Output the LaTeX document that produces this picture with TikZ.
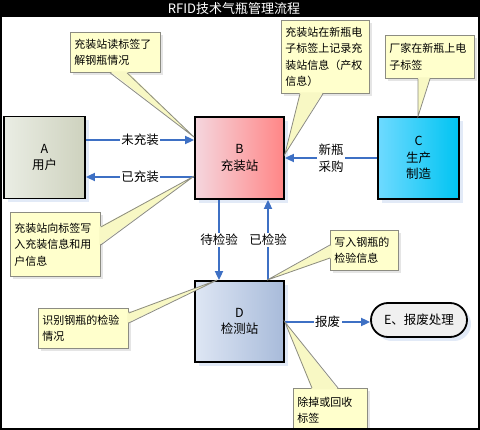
\documentclass[tikz,border=0pt]{standalone}
\usepackage{fontspec}
\setmainfont{Noto Sans CJK SC}
\usetikzlibrary{arrows.meta,shadows,calc}
\definecolor{flow}{RGB}{62,112,196}
\definecolor{callfill}{RGB}{255,255,204}
\definecolor{wedgefill}{RGB}{248,248,196}
\definecolor{callline}{RGB}{140,140,130}
\definecolor{shadowblue}{RGB}{226,234,247}
\definecolor{aL}{RGB}{234,237,228}
\definecolor{aR}{RGB}{206,210,190}
\definecolor{bL}{RGB}{245,214,222}
\definecolor{bR}{RGB}{255,134,134}
\definecolor{cL}{RGB}{110,218,255}
\definecolor{cR}{RGB}{0,196,242}
\definecolor{dL}{RGB}{222,230,244}
\definecolor{dR}{RGB}{168,187,218}
\newcommand\callwedge[4]{%
  \fill[wedgefill] ($(#1)+(#4)$) -- (#3) -- ($(#2)+(#4)$) -- cycle;
  \draw[callline,line width=0.8pt] (#1) -- (#3) -- (#2);}
\begin{document}
\begin{tikzpicture}[x=1pt,y=-1pt,
  stationbox/.style={draw=black,line width=1.8pt,minimum width=89pt,minimum height=82pt,
    align=center,font=\fontsize{12.5}{16.5}\selectfont,
    drop shadow={shadow xshift=4pt,shadow yshift=-4pt,fill=shadowblue,opacity=1}},
  flowline/.style={draw=flow,line width=1.8pt,-{Triangle[length=9pt,width=8pt]}},
  flowlabel/.style={fill=white,inner sep=1.5pt,font=\fontsize{12.5}{15}\selectfont},
  callout/.style={draw=callline,fill=callfill,line width=0.8pt,anchor=north west,
    inner sep=4pt,align=left,font=\fontsize{11}{16.5}\selectfont,
    drop shadow={shadow xshift=3pt,shadow yshift=-3pt,fill=black!10,opacity=1}}]
\useasboundingbox (0,0) rectangle (480,430);
\fill[white] (0,0) rectangle (480,430);
\fill[black] (0,0) rectangle (480,17);
\node[text=white,font=\fontsize{13}{15}\selectfont] (title) at (234,8.5) {RFID技术气瓶管理流程};

% stations
\node[stationbox,minimum width=81pt,left color=aL,right color=aR] (A) at (44.5,157.5) {A\\用户};
\node[stationbox,left color=bL,right color=bR] (B) at (239.5,158) {B\\充装站};
\node[stationbox,minimum width=81pt,left color=cL,right color=cR] (C) at (418.5,158) {C\\生产\\制造};
\node[stationbox,minimum height=81pt,left color=dL,right color=dR] (D) at (239.5,321.5) {D\\检测站};
\node[draw=black,line width=1.8pt,fill=black!6,rounded corners=17pt,minimum width=96pt,
  minimum height=34pt,font=\fontsize{12.5}{15}\selectfont,
  drop shadow={shadow xshift=4pt,shadow yshift=-4pt,fill=shadowblue,opacity=1}] (E) at (419,320) {E、报废处理};

% flows
\coordinate (yAB) at (0,140);
\coordinate (yBA) at (0,177);
\coordinate (xBD) at (219,0);
\coordinate (xDB) at (268,0);
\coordinate (yDE) at (0,322);
\draw[flowline] (A.east |- yAB) -- node[flowlabel]{未充装} (B.west |- yAB);
\draw[flowline] (B.west |- yBA) -- node[flowlabel]{已充装} (A.east |- yBA);
\draw[flowline] (C.west) -- node[flowlabel,align=center,font=\fontsize{12.5}{16.5}\selectfont]{新瓶\\采购} (B.east);
\draw[flowline] (B.south -| xBD) -- node[flowlabel]{待检验} (D.north -| xBD);
\draw[flowline] (D.north -| xDB) -- node[flowlabel]{已检验} (B.south -| xDB);
\draw[flowline] (D.east |- yDE) -- node[flowlabel]{报废} (E.west |- yDE);

% callouts
\node[callout,text width=82pt,minimum height=40pt] (c1) at (70,32) {充装站读标签了\\解钢瓶情况};
\node[callout,text width=80pt,minimum height=73pt] (c2) at (281,20) {充装站在新瓶电\\子标签上记录充\\装站信息（产权\\信息）};
\node[callout,text width=81pt,minimum height=43pt] (c3) at (385,35) {厂家在新瓶上电\\子标签};
\node[callout,text width=82pt,minimum height=64pt] (c4) at (10,212) {充装站向标签写\\入充装信息和用\\户信息};
\node[callout,text width=60pt,minimum height=40pt] (c5) at (330,230) {写入钢瓶的\\检验信息};
\node[callout,text width=82pt,minimum height=40pt] (c6) at (38,308) {识别钢瓶的检验\\情况};
\node[callout,text width=66pt,minimum height=44pt] (c7) at (293,388) {除掉或回收\\标签};

\coordinate (t1) at ($(B.north west)+(0,21)$);
\coordinate (t2) at ($(B.north east)+(0,38)$);
\coordinate (t3) at ($(C.north west)+(41,0)$);
\coordinate (t4) at ($(B.north west)+(0,60)$);
\coordinate (t5) at ($(D.north west)+(73,0)$);
\coordinate (t6) at ($(D.north west)+(23,0)$);
\coordinate (t7) at ($(D.north east)+(0,42)$);
\coordinate (b1a) at ($(c1.south west)+(40,0)$);
\coordinate (b1b) at ($(c1.south west)+(57,0)$);
\coordinate (b2a) at ($(c2.south west)+(19,0)$);
\coordinate (b2b) at ($(c2.south west)+(42,0)$);
\coordinate (b3a) at ($(c3.south west)+(33,0)$);
\coordinate (b3b) at ($(c3.south west)+(45,0)$);
\coordinate (b4a) at ($(c4.north east)+(0,15)$);
\coordinate (b4b) at ($(c4.north east)+(0,33)$);
\coordinate (b5a) at ($(c5.north west)+(0,15)$);
\coordinate (b5b) at ($(c5.north west)+(0,28)$);
\coordinate (b6a) at ($(c6.north east)+(0,5)$);
\coordinate (b6b) at ($(c6.north east)+(0,15)$);
\coordinate (b7a) at ($(c7.north west)+(19,0)$);
\coordinate (b7b) at ($(c7.north west)+(45,0)$);
\callwedge{b1a}{b1b}{t1}{0,-1.5}
\callwedge{b2a}{b2b}{t2}{0,-1.5}
\callwedge{b3a}{b3b}{t3}{0,-1.5}
\callwedge{b4a}{b4b}{t4}{-1.5,0}
\callwedge{b5a}{b5b}{t5}{1.5,0}
\callwedge{b6a}{b6b}{t6}{-1.5,0}
\callwedge{b7a}{b7b}{t7}{0,1.5}

% frame
\draw[line width=2pt] (1,1) rectangle (479,429);
\end{tikzpicture}
\end{document}
